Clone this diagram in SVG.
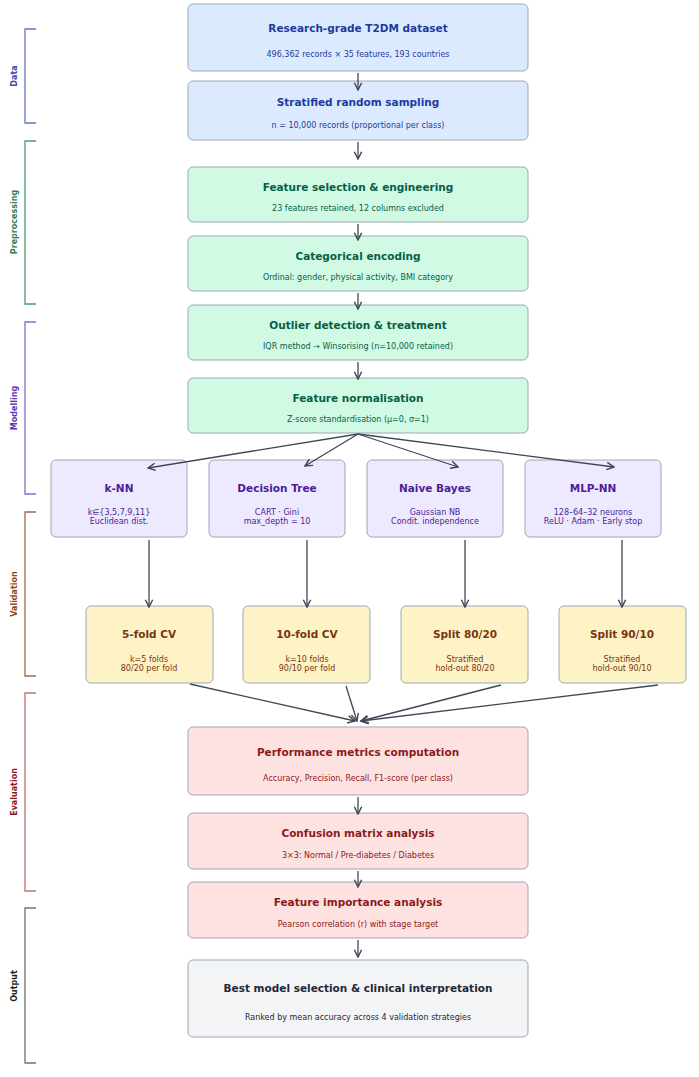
<svg xmlns="http://www.w3.org/2000/svg" width="699" height="1077" viewBox="0 0 699 1077">
<style>
text{font-family:"DejaVu Sans",sans-serif;text-anchor:middle}
.t{font-size:10.5px;font-weight:bold}
.s{font-size:8px}
.box{stroke:#a0a7b4;stroke-width:1}
.b rect{fill:#dbeafe}.b text{fill:#1e3a9e}
.g rect{fill:#d1fae5}.g text{fill:#065f46}
.p rect{fill:#ede9fe}.p text{fill:#4c1d95}
.y rect{fill:#fef3c7}.y text{fill:#78350f}
.r rect{fill:#fee2e2}.r text{fill:#8b1a1a}
.k rect{fill:#f3f4f6}.k text{fill:#1f2937}
.c line{stroke:#3f4756;stroke-width:1.3;marker-end:url(#a)}
.br{fill:none;stroke-width:1.3}
.lab{font-size:8px;font-weight:bold}
</style>
<defs><marker id="a" viewBox="0 0 10 10" refX="9" refY="5" markerWidth="7" markerHeight="7" orient="auto"><path d="M1,1 L9,5 L1,9" fill="none" stroke="#3f4756" stroke-width="1.6"/></marker></defs>
<rect width="699" height="1077" fill="#fff"/>
<g id="brackets">
<path class="br" stroke="#6674c8" d="M36,29H25V123H36"/><text class="lab" fill="#3b4bb0" transform="translate(17,76) rotate(-90)">Data</text>
<path class="br" stroke="#4a9a78" d="M36,141H25V304H36"/><text class="lab" fill="#2f7a5a" transform="translate(17,222) rotate(-90)">Preprocessing</text>
<path class="br" stroke="#8a6ad0" d="M36,322H25V494H36"/><text class="lab" fill="#5b34b0" transform="translate(17,408) rotate(-90)">Modelling</text>
<path class="br" stroke="#a06a4a" d="M36,512H25V676H36"/><text class="lab" fill="#8a4a1a" transform="translate(17,594) rotate(-90)">Validation</text>
<path class="br" stroke="#c07070" d="M36,693H25V891H36"/><text class="lab" fill="#8b1a2a" transform="translate(17,792) rotate(-90)">Evaluation</text>
<path class="br" stroke="#707070" d="M36,908H25V1063H36"/><text class="lab" fill="#222" transform="translate(17,986) rotate(-90)">Output</text>
</g>
<g id="n1" class="b"><rect class="box" x="188" y="4" width="340" height="67" rx="5"/><text class="t" x="358" y="32">Research-grade T2DM dataset</text><text class="s" x="358" y="57">496,362 records × 35 features, 193 countries</text></g>
<g id="n2" class="b"><rect class="box" x="188" y="81" width="340" height="59" rx="5"/><text class="t" x="358" y="106">Stratified random sampling</text><text class="s" x="358" y="128">n = 10,000 records (proportional per class)</text></g>
<g id="n3" class="g"><rect class="box" x="188" y="167" width="340" height="55" rx="5"/><text class="t" x="358" y="191">Feature selection &amp; engineering</text><text class="s" x="358" y="211">23 features retained, 12 columns excluded</text></g>
<g id="n4" class="g"><rect class="box" x="188" y="236" width="340" height="55" rx="5"/><text class="t" x="358" y="260">Categorical encoding</text><text class="s" x="358" y="280">Ordinal: gender, physical activity, BMI category</text></g>
<g id="n5" class="g"><rect class="box" x="188" y="305" width="340" height="55" rx="5"/><text class="t" x="358" y="329">Outlier detection &amp; treatment</text><text class="s" x="358" y="349">IQR method → Winsorising (n=10,000 retained)</text></g>
<g id="n6" class="g"><rect class="box" x="188" y="378" width="340" height="55" rx="5"/><text class="t" x="358" y="402">Feature normalisation</text><text class="s" x="358" y="422">Z-score standardisation (μ=0, σ=1)</text></g>
<g id="m1" class="p"><rect class="box" x="51" y="460" width="136" height="77" rx="5"/><text class="t" x="119" y="492">k-NN</text><text class="s" x="119" y="515">k∈{3,5,7,9,11}</text><text class="s" x="119" y="524">Euclidean dist.</text></g>
<g id="m2" class="p"><rect class="box" x="209" y="460" width="136" height="77" rx="5"/><text class="t" x="277" y="492">Decision Tree</text><text class="s" x="277" y="515">CART · Gini</text><text class="s" x="277" y="524">max_depth = 10</text></g>
<g id="m3" class="p"><rect class="box" x="367" y="460" width="136" height="77" rx="5"/><text class="t" x="435" y="492">Naive Bayes</text><text class="s" x="435" y="515">Gaussian NB</text><text class="s" x="435" y="524">Condit. independence</text></g>
<g id="m4" class="p"><rect class="box" x="525" y="460" width="136" height="77" rx="5"/><text class="t" x="593" y="492">MLP-NN</text><text class="s" x="593" y="515">128–64–32 neurons</text><text class="s" x="593" y="524">ReLU · Adam · Early stop</text></g>
<g id="v1" class="y"><rect class="box" x="86" y="606" width="127" height="77" rx="5"/><text class="t" x="149" y="638">5-fold CV</text><text class="s" x="149" y="662">k=5 folds</text><text class="s" x="149" y="671">80/20 per fold</text></g>
<g id="v2" class="y"><rect class="box" x="243" y="606" width="127" height="77" rx="5"/><text class="t" x="307" y="638">10-fold CV</text><text class="s" x="307" y="662">k=10 folds</text><text class="s" x="307" y="671">90/10 per fold</text></g>
<g id="v3" class="y"><rect class="box" x="401" y="606" width="127" height="77" rx="5"/><text class="t" x="465" y="638">Split 80/20</text><text class="s" x="465" y="662">Stratified</text><text class="s" x="465" y="671">hold-out 80/20</text></g>
<g id="v4" class="y"><rect class="box" x="559" y="606" width="127" height="77" rx="5"/><text class="t" x="622" y="638">Split 90/10</text><text class="s" x="622" y="662">Stratified</text><text class="s" x="622" y="671">hold-out 90/10</text></g>
<g id="e1" class="r"><rect class="box" x="188" y="727" width="340" height="68" rx="5"/><text class="t" x="358" y="756">Performance metrics computation</text><text class="s" x="358" y="781">Accuracy, Precision, Recall, F1-score (per class)</text></g>
<g id="e2" class="r"><rect class="box" x="188" y="813" width="340" height="56" rx="5"/><text class="t" x="358" y="837">Confusion matrix analysis</text><text class="s" x="358" y="858">3×3: Normal / Pre-diabetes / Diabetes</text></g>
<g id="e3" class="r"><rect class="box" x="188" y="882" width="340" height="56" rx="5"/><text class="t" x="358" y="906">Feature importance analysis</text><text class="s" x="358" y="927">Pearson correlation (r) with stage target</text></g>
<g id="o1" class="k"><rect class="box" x="188" y="960" width="340" height="77" rx="5"/><text class="t" x="358" y="992">Best model selection &amp; clinical interpretation</text><text class="s" x="358" y="1020">Ranked by mean accuracy across 4 validation strategies</text></g>
<g id="connectors" class="c">
<line x1="358" y1="73" x2="358" y2="90"/>
<line x1="358" y1="142" x2="358" y2="159"/>
<line x1="358" y1="224" x2="358" y2="240"/>
<line x1="358" y1="293" x2="358" y2="309"/>
<line x1="358" y1="362" x2="358" y2="379"/>
<line x1="358" y1="434" x2="148" y2="468"/>
<line x1="358" y1="434" x2="305" y2="466"/>
<line x1="358" y1="434" x2="458" y2="467"/>
<line x1="358" y1="434" x2="614" y2="467"/>
<line x1="149" y1="540" x2="149" y2="607"/>
<line x1="307" y1="540" x2="307" y2="607"/>
<line x1="465" y1="540" x2="465" y2="607"/>
<line x1="622" y1="540" x2="622" y2="607"/>
<line x1="190" y1="684" x2="355" y2="721"/>
<line x1="346" y1="686" x2="357" y2="721"/>
<line x1="501" y1="685" x2="361" y2="721"/>
<line x1="658" y1="685" x2="361" y2="721"/>
<line x1="358" y1="797" x2="358" y2="814"/>
<line x1="358" y1="871" x2="358" y2="887"/>
<line x1="358" y1="940" x2="358" y2="957"/>
</g>
</svg>
